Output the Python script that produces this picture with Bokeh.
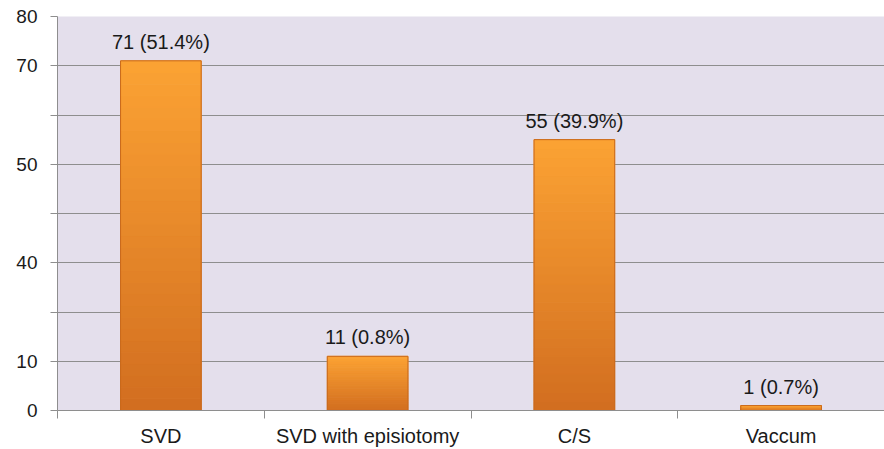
from bokeh.plotting import figure
from bokeh.models import Range1d, FixedTicker, ColumnDataSource
from bokeh.core.properties import value
from bokeh.embed import file_html
from bokeh.resources import INLINE

# ---- data ----
categories = ["SVD", "SVD with episiotomy", "C/S", "Vaccum"]
counts = [71, 11, 55, 1]
bar_labels = ["71 (51.4%)", "11 (0.8%)", "55 (39.9%)", "1 (0.7%)"]
y_tick_values = [0, 10, 20, 30, 40, 50, 60, 70, 80]
y_tick_labels = ["0", "10", "", "40", "", "50", "", "70", "80"]

FONT = "Liberation Sans"
GRID = "#8e8e8e"

p = figure(width=884, height=449, output_backend="svg", toolbar_location=None,
           x_range=Range1d(0, len(categories)), y_range=Range1d(0, 80),
           min_border_left=57, min_border_right=0, min_border_top=16, min_border_bottom=39)
p.border_fill_color = "white"
p.outline_line_color = None
p.background_fill_color = "#e4dfec"

xs = [i + 0.5 for i in range(len(categories))]

# gradient bars (stacked slices derived from the values)
N = 30
top_c = (252, 163, 52)
bot_c = (210, 110, 32)
sx, sb, st, sc = [], [], [], []
for x, v in zip(xs, counts):
    for k in range(N):
        f = (k + 0.5) / N
        c = tuple(int(bot_c[j] + (top_c[j] - bot_c[j]) * f) for j in range(3))
        sx.append(x)
        sb.append(v * k / N)
        st.append(v * (k + 1) / N)
        sc.append("#%02x%02x%02x" % c)
p.vbar(x=sx, bottom=sb, top=st, width=0.39, fill_color=sc, line_color=sc, line_width=1)
p.vbar(x=xs, top=counts, width=0.39, fill_color=None, line_color="#c9691c", line_width=1)

src = ColumnDataSource(dict(x=xs, y=counts, t=bar_labels))
p.text(x="x", y="y", text="t", source=src, text_align="center", text_baseline="bottom",
       y_offset=-8, text_font_size="20px", text_color="#1a1a1a", text_font=value(FONT))

# y axis
p.yaxis.ticker = FixedTicker(ticks=y_tick_values)
p.yaxis.major_label_overrides = {v: l for v, l in zip(y_tick_values, y_tick_labels)}
p.yaxis.major_tick_out = 7
p.yaxis.major_tick_in = 0
p.yaxis.minor_tick_line_color = None
p.yaxis.major_tick_line_color = GRID
p.yaxis.axis_line_color = GRID
p.yaxis.major_label_standoff = 13
p.yaxis.major_label_text_font = FONT
p.yaxis.major_label_text_font_size = "19px"
p.yaxis.major_label_text_color = "#1a1a1a"

# x axis
p.xaxis.ticker = FixedTicker(ticks=xs, minor_ticks=list(range(len(categories) + 1)))
p.xaxis.major_label_overrides = {x: c for x, c in zip(xs, categories)}
p.xaxis.major_tick_line_color = None
p.xaxis.major_tick_out = 0
p.xaxis.major_tick_in = 0
p.xaxis.minor_tick_out = 8
p.xaxis.minor_tick_in = 0
p.xaxis.minor_tick_line_color = GRID
p.xaxis.axis_line_color = GRID
p.xaxis.major_label_standoff = 6
p.xaxis.major_label_text_font = FONT
p.xaxis.major_label_text_font_size = "20px"
p.xaxis.major_label_text_color = "#1a1a1a"

p.xgrid.grid_line_color = None
p.ygrid.grid_line_color = GRID
p.ygrid.grid_line_width = 1.2

open("out.html", "w").write(file_html(p, INLINE))
